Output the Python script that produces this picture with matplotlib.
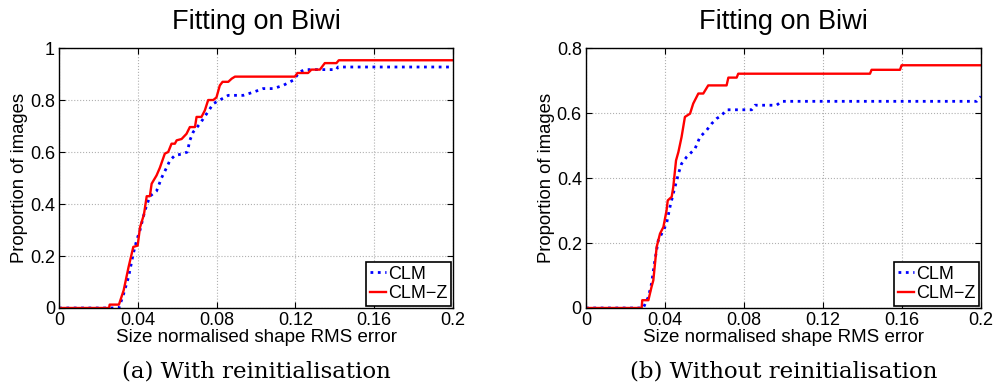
import matplotlib
matplotlib.use("Agg")
import matplotlib.pyplot as plt

# Cumulative error curves (x: size normalised shape RMS error, y: proportion of images)
with_reinit_clm_x = [0, 0.0304, 0.0328, 0.0353, 0.0377, 0.0394, 0.0411, 0.0436, 0.0461, 0.0495,
                     0.0520, 0.0546, 0.0563, 0.0588, 0.0622, 0.0651, 0.0664, 0.0681, 0.0715, 0.0749,
                     0.0783, 0.0816, 0.0859, 0.0935, 0.0985, 0.1036, 0.1087, 0.1137, 0.1188, 0.1222,
                     0.1247, 0.1408, 0.1416, 0.2]
with_reinit_clm_y = [0, 0, 0.055, 0.12, 0.21, 0.26, 0.30, 0.375, 0.43, 0.45,
                     0.50, 0.54, 0.568, 0.587, 0.592, 0.60, 0.645, 0.677, 0.709, 0.747,
                     0.786, 0.80, 0.818, 0.818, 0.83, 0.844, 0.844, 0.856, 0.876, 0.908,
                     0.917, 0.917, 0.927, 0.927]

with_reinit_clmz_x = [0, 0.0254, 0.0257, 0.0304, 0.0328, 0.0353, 0.0377, 0.0399, 0.0411, 0.0431,
                      0.0445, 0.0461, 0.0470, 0.0495, 0.0512, 0.0537, 0.0554, 0.0571, 0.0588, 0.0597,
                      0.0622, 0.0647, 0.0664, 0.0690, 0.0698, 0.0723, 0.0740, 0.0757, 0.0783, 0.0799,
                      0.0816, 0.0830, 0.0859, 0.0876, 0.0893, 0.1197, 0.1210, 0.1264, 0.1281, 0.1324,
                      0.1349, 0.1408, 0.1420, 0.2]
with_reinit_clmz_y = [0, 0, 0.013, 0.013, 0.068, 0.158, 0.235, 0.24, 0.31, 0.36,
                      0.43, 0.43, 0.478, 0.51, 0.54, 0.594, 0.60, 0.632, 0.632, 0.645,
                      0.65, 0.67, 0.696, 0.696, 0.735, 0.735, 0.76, 0.80, 0.80, 0.81,
                      0.856, 0.87, 0.87, 0.882, 0.89, 0.89, 0.904, 0.904, 0.917, 0.917,
                      0.942, 0.942, 0.953, 0.953]

no_reinit_clm_x = [0, 0.0290, 0.0316, 0.0332, 0.0349, 0.0366, 0.0392, 0.0408, 0.0425, 0.0442,
                   0.0468, 0.0484, 0.0510, 0.0552, 0.0577, 0.0611, 0.0636, 0.0662, 0.0687, 0.0712,
                   0.0839, 0.0856, 0.0965, 0.0991, 0.1978, 0.2]
no_reinit_clm_y = [0, 0, 0.034, 0.075, 0.147, 0.208, 0.239, 0.26, 0.31, 0.352,
                   0.413, 0.444, 0.465, 0.49, 0.526, 0.547, 0.567, 0.583, 0.593, 0.61,
                   0.61, 0.624, 0.624, 0.636, 0.636, 0.651]

no_reinit_clmz_x = [0, 0.0282, 0.0285, 0.0316, 0.0332, 0.0341, 0.0358, 0.0375, 0.0392, 0.0408,
                    0.0414, 0.0434, 0.0442, 0.0456, 0.0468, 0.0484, 0.0501, 0.0527, 0.0543, 0.0569,
                    0.0594, 0.0619, 0.0712, 0.0721, 0.0763, 0.0771, 0.1438, 0.1446, 0.1590, 0.1598,
                    0.2]
no_reinit_clmz_y = [0, 0, 0.024, 0.024, 0.065, 0.085, 0.188, 0.229, 0.249, 0.30,
                    0.331, 0.342, 0.372, 0.454, 0.48, 0.526, 0.588, 0.598, 0.629, 0.66,
                    0.66, 0.685, 0.685, 0.709, 0.709, 0.721, 0.721, 0.733, 0.733, 0.747,
                    0.747]

x_ticks = [0, 0.04, 0.08, 0.12, 0.16, 0.2]
x_tick_labels = ["0", "0.04", "0.08", "0.12", "0.16", "0.2"]
y_ticks_a = [0, 0.2, 0.4, 0.6, 0.8, 1.0]
y_tick_labels_a = ["0", "0.2", "0.4", "0.6", "0.8", "1"]
y_ticks_b = [0, 0.2, 0.4, 0.6, 0.8]
y_tick_labels_b = ["0", "0.2", "0.4", "0.6", "0.8"]

title = "Fitting on Biwi"
x_label = "Size normalised shape RMS error"
y_label = "Proportion of images"
captions = ["(a) With reinitialisation", "(b) Without reinitialisation"]
series_names = ["CLM", "CLM\u2212Z"]

plt.rcParams["font.family"] = ["Liberation Sans", "DejaVu Sans"]

fig = plt.figure(figsize=(9.94, 3.88), dpi=100)
ax_a = fig.add_axes([0.0594, 0.2062, 0.3964, 0.670])
ax_b = fig.add_axes([0.5895, 0.2062, 0.3974, 0.670])

panels = [
    (ax_a, with_reinit_clm_x, with_reinit_clm_y, with_reinit_clmz_x, with_reinit_clmz_y,
     y_ticks_a, y_tick_labels_a, 1.0, captions[0]),
    (ax_b, no_reinit_clm_x, no_reinit_clm_y, no_reinit_clmz_x, no_reinit_clmz_y,
     y_ticks_b, y_tick_labels_b, 0.8, captions[1]),
]

for ax, bx, by, rx, ry, yt, ytl, ymax, cap in panels:
    ax.plot(bx, by, color=(0, 0, 1), linestyle=":", linewidth=2.0, label=series_names[0])
    ax.plot(rx, ry, color=(1, 0, 0), linestyle="-", linewidth=1.7, label=series_names[1])
    ax.set_xlim(0, 0.2)
    ax.set_ylim(0, ymax)
    ax.set_xticks(x_ticks)
    ax.set_xticklabels(x_tick_labels)
    ax.set_yticks(yt)
    ax.set_yticklabels(ytl)
    ax.tick_params(direction="in", length=4, width=0.8, labelsize=13, pad=3,
                   top=True, right=True, colors="black")
    ax.tick_params(axis="x", pad=3)
    ax.grid(True, color="#b0b0b0", linestyle=":", linewidth=0.8)
    for sp in ax.spines.values():
        sp.set_linewidth(1.0)
    ax.set_title(title, fontsize=19.5, pad=14)
    ax.set_xlabel(x_label, fontsize=13.5, labelpad=0)
    ax.set_ylabel(y_label, fontsize=13.3, labelpad=1)
    leg = ax.legend(loc="lower right", fontsize=13, handlelength=0.9, handletextpad=0.1,
                    borderpad=0.2, labelspacing=0.15, borderaxespad=0.12, fancybox=False,
                    framealpha=1, edgecolor="black")
    leg.get_frame().set_linewidth(1.2)
    pos = ax.get_position()
    fig.text(pos.x0 + pos.width / 2, 0.042, cap, ha="center", va="center",
             fontsize=16.5, family=["DejaVu Serif"])

fig.savefig("out.png", dpi=100)
